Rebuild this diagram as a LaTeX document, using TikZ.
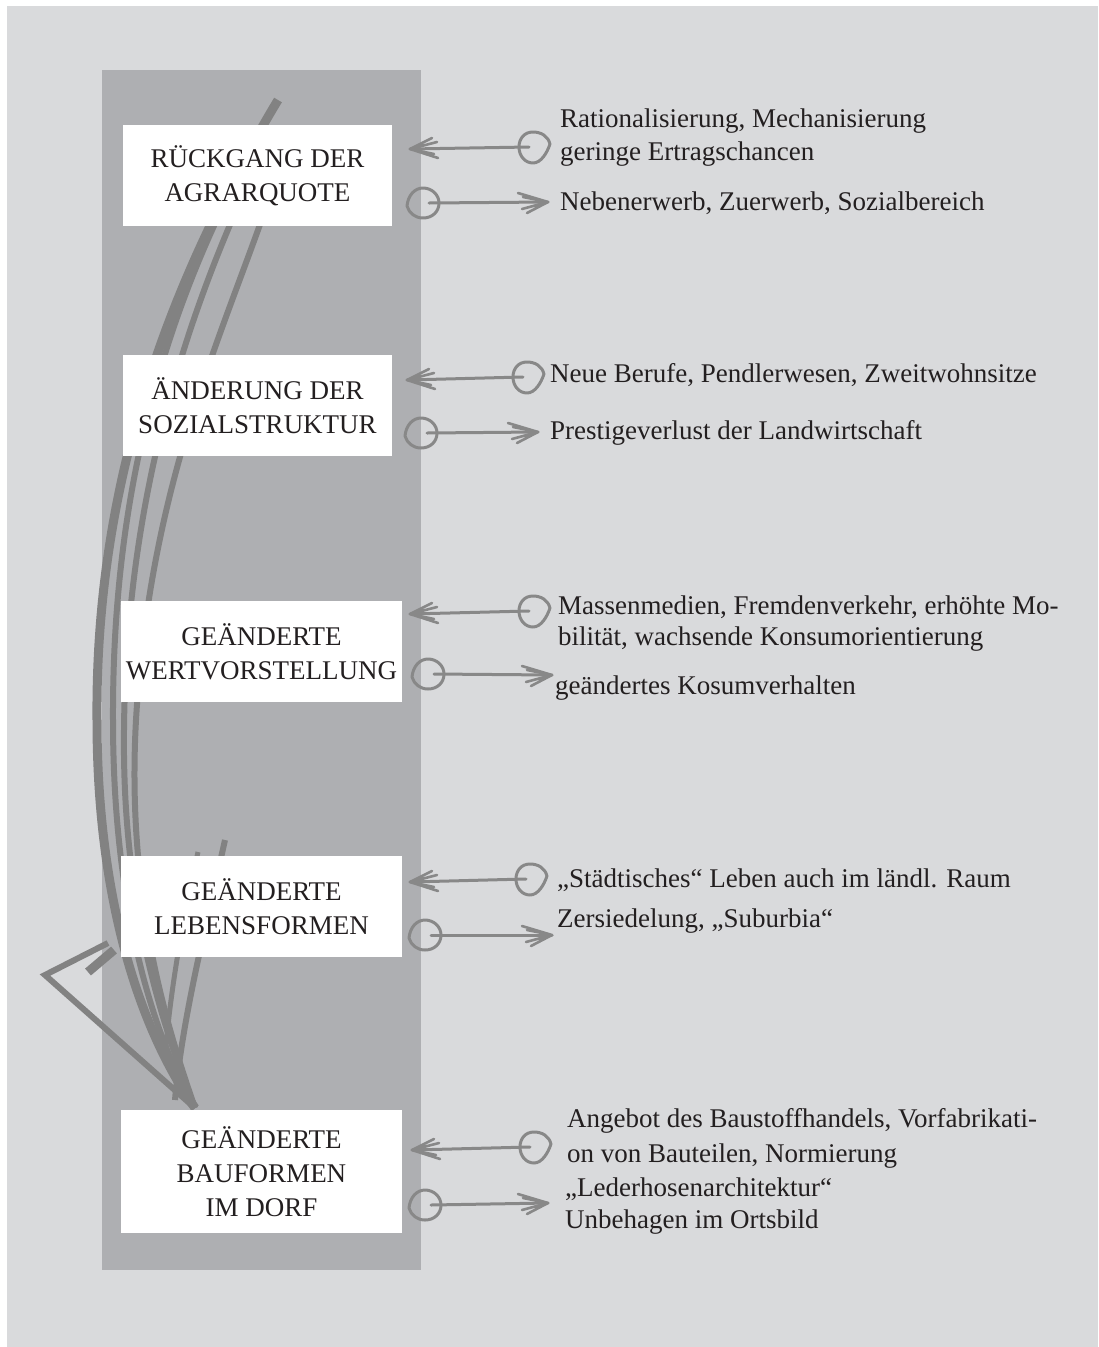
\documentclass[tikz,border=0pt]{standalone}
\usepackage{fontspec}
\setmainfont{Liberation Serif}
\definecolor{bg}{HTML}{D9DADC}
\definecolor{colgray}{HTML}{AEAFB2}
\definecolor{strk}{HTML}{828282}
\definecolor{arrgray}{HTML}{888888}
\definecolor{ink}{HTML}{231F20}
\tikzset{
  boxnode/.style={fill=white, inner sep=0pt, align=center, text=ink,
    font=\fontsize{27}{34}\selectfont},
  txtnode/.style={anchor=base west, inner sep=0pt, text=ink,
    font=\fontsize{27}{33}\selectfont},
  arrline/.style={draw=arrgray, line width=3pt, line join=round, line cap=round},
  headline/.style={draw=arrgray, line width=2.6pt, line join=round, line cap=round},
  bigstroke/.style={draw=strk, line width=#1},
  bigstroke/.default=6pt
}
\newcommand{\mytearR}[1]{%
  \begin{scope}[shift={(#1)}]
    \draw[arrline] (17,-3) .. controls (15,-11) and (8,-15) .. (0,-15)
      .. controls (-9,-15) and (-14,-8) .. (-14,0)
      .. controls (-14,9) and (-8,16) .. (0,16)
      .. controls (8,16) and (14,6) .. (17,-3);
  \end{scope}}
\newcommand{\mytearL}[1]{%
  \begin{scope}[shift={(#1)}]
    \draw[arrline] (-16,3) .. controls (-15,-8) and (-8,-15) .. (0,-15)
      .. controls (9,-15) and (16,-8) .. (16,0)
      .. controls (16,9) and (9,15) .. (0,15)
      .. controls (-8,15) and (-14,10) .. (-16,3);
  \end{scope}}
\newcommand{\myheadL}[1]{%
  \draw[headline] (#1) -- ++(22,-11) (#1) -- ++(27,-7)
                  (#1) -- ++(28,9) (#1) -- ++(24,5);}
\newcommand{\myheadR}[1]{%
  \draw[headline] (#1) -- ++(-30,-9) (#1) -- ++(-25,-5)
                  (#1) -- ++(-21,11) (#1) -- ++(-26,7);}
\begin{document}
\begin{tikzpicture}[x=1pt,y=-1pt]
\useasboundingbox (0,0) rectangle (1098,1347);
\fill[white] (0,0) rectangle (1098,1347);
\fill[bg] (7,6) rectangle (1098,1347);
\fill[colgray] (102,70) rectangle (421,1270);

% big hand-drawn curved arrow
\coordinate (ctop1) at (278,100);
\coordinate (ctop2) at (266,125);
\coordinate (ctop3) at (252,175);
\coordinate (ctop4) at (272,190);
\coordinate (ctip) at (195,1108);
\coordinate (cwing) at (45,975);
\coordinate (cwend) at (108,943);
\coordinate (crw1) at (225,840);
\coordinate (crw2) at (198,852);
\draw[bigstroke=9pt] (ctop1) .. controls (170,280) and (95,480) .. (97,720)
   .. controls (97,900) and (140,1030) .. (ctip);
\draw[bigstroke=6pt] (ctop2) .. controls (165,300) and (112,490) .. (113,720)
   .. controls (113,900) and (150,1030) .. (ctip);
\draw[bigstroke=6pt] (ctop3) .. controls (185,320) and (126,500) .. (124,730)
   .. controls (122,900) and (160,1020) .. (ctip);
\draw[bigstroke=6pt] (ctop4) .. controls (225,330) and (150,480) .. (136,720)
   .. controls (126,900) and (168,1030) .. (ctip);
\draw[bigstroke=6pt, line join=miter] (ctip) -- (cwing) -- (cwend);
\draw[bigstroke=9pt] (88,972) -- (114,950);
\draw[bigstroke=6pt] (crw1) .. controls (205,930) and (182,1020) .. (175,1100);
\draw[bigstroke=5pt] (crw2) .. controls (180,930) and (168,1010) .. (165,1060);

% boxes
\node[boxnode, minimum width=269pt, minimum height=101pt] (b1) at (257.5,175.5) {RÜCKGANG DER\\AGRARQUOTE};
\node[boxnode, minimum width=269pt, minimum height=101pt] (b2) at (257.5,405.5) {ÄNDERUNG DER\\SOZIALSTRUKTUR};
\node[boxnode, minimum width=281pt, minimum height=101pt] (b3) at (261.5,651.5) {GEÄNDERTE\\WERTVORSTELLUNG};
\node[boxnode, minimum width=281pt, minimum height=101pt] (b4) at (261.5,906.5) {GEÄNDERTE\\LEBENSFORMEN};
\node[boxnode, minimum width=281pt, minimum height=123pt] (b5) at (261.5,1171.5) {GEÄNDERTE\\BAUFORMEN\\IM DORF};

% arrow coordinates
\coordinate (cL1) at (533,147);  \coordinate (tL1) at (410,149);
\coordinate (cR1) at (423,203);  \coordinate (tR1) at (548,202);
\coordinate (cL2) at (527,377);  \coordinate (tL2) at (407,380);
\coordinate (cR2) at (421,433);  \coordinate (tR2) at (538,432);
\coordinate (cL3) at (533,611);  \coordinate (tL3) at (410,614);
\coordinate (cR3) at (428,674);  \coordinate (tR3) at (552,675);
\coordinate (cL4) at (530,879);  \coordinate (tL4) at (410,882);
\coordinate (cR4) at (425,935);  \coordinate (tR4) at (552,935);
\coordinate (cL5) at (534,1147); \coordinate (tL5) at (412,1150);
\coordinate (cR5) at (425,1205); \coordinate (tR5) at (548,1203);

\foreach \i in {1,...,5}{
  \draw[arrline] ([xshift=-4pt]cL\i) -- (tL\i);
  \mytearR{cL\i}
  \myheadL{tL\i}
  \draw[arrline] ([xshift=6pt]cR\i) -- (tR\i);
  \mytearL{cR\i}
  \myheadR{tR\i}
}

% texts
\node[txtnode] (r1a) at (560,127) {Rationalisierung, Mechanisierung};
\node[txtnode] (r1b) at (560,160) {geringe Ertragschancen};
\node[txtnode] (r1c) at (560,210) {Nebenerwerb, Zuerwerb, Sozialbereich};
\node[txtnode] (r2a) at (550,382) {Neue Berufe, Pendlerwesen, Zweitwohnsitze};
\node[txtnode] (r2b) at (550,439) {Prestigeverlust der Landwirtschaft};
\node[txtnode] (r3a) at (558,614) {Massenmedien, Fremdenverkehr, erhöhte Mo-};
\node[txtnode] (r3b) at (558,645) {bilität, wachsende Konsumorientierung};
\node[txtnode] (r3c) at (555,694) {geändertes Kosumverhalten};
\node[txtnode] (r4a) at (557,887) {„Städtisches“ Leben auch im ländl. Raum};
\node[txtnode] (r4b) at (557,927) {Zersiedelung, „Suburbia“};
\node[txtnode] (r5a) at (567,1127) {Angebot des Baustoffhandels, Vorfabrikati-};
\node[txtnode] (r5b) at (567,1162) {on von Bauteilen, Normierung};
\node[txtnode] (r5c) at (565,1196) {„Lederhosenarchitektur“};
\node[txtnode] (r5d) at (565,1228) {Unbehagen im Ortsbild};
\end{tikzpicture}
\end{document}
